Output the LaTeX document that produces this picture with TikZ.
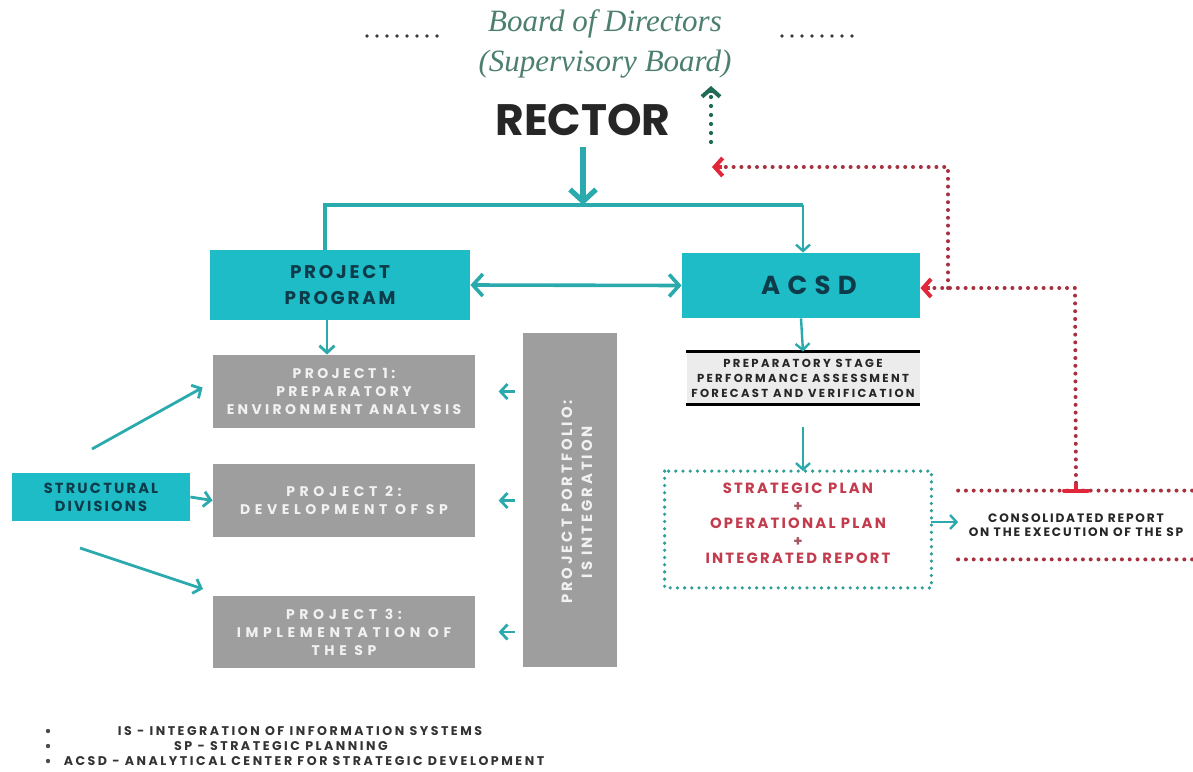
\documentclass[tikz,border=0pt]{standalone}
\usepackage{fontspec}
\setmainfont{Liberation Serif}
\newfontfamily\geo{Poppins}
\newfontfamily\geotrk[LetterSpace=15]{Poppins}
\newfontfamily\geowide[LetterSpace=20]{Poppins}
\newfontfamily\geoenv[LetterSpace=24]{Poppins}
\newfontfamily\geoproj[LetterSpace=33]{Poppins}
\newfontfamily\geoacsd[LetterSpace=28]{Poppins}
\usetikzlibrary{arrows.meta}
\definecolor{tealbox}{HTML}{1DBCC7}
\definecolor{tealline}{HTML}{2BAAAE}
\definecolor{navytxt}{HTML}{0E3B4A}
\definecolor{graybox}{HTML}{9E9E9E}
\definecolor{graytxt}{HTML}{F1F1F1}
\definecolor{boardgreen}{HTML}{4C7F70}
\definecolor{darkgreen}{HTML}{1F6B55}
\definecolor{plantxt}{HTML}{C23C4E}
\definecolor{reddot}{HTML}{A8303F}
\definecolor{redhead}{HTML}{E0283A}
\definecolor{prepfill}{HTML}{ECECEC}
\definecolor{dotgray}{HTML}{3A3A3A}
\definecolor{plandot}{HTML}{2E9E98}
\begin{document}
\begin{tikzpicture}[x=0.5pt,y=-0.5pt,
  tealnode/.style={fill=tealbox, text=navytxt, align=center, inner sep=0pt, font=\geotrk\bfseries},
  graynode/.style={fill=graybox, text=graytxt, align=center, inner sep=0pt, font=\geoproj\bfseries\fontsize{7}{9}\selectfont},
  flow/.style={draw=tealline, line width=1.4pt, -{Straight Barb[length=3.5pt,width=7.5pt,line width=1.4pt]}},
  flowthin/.style={draw=tealline, line width=1.2pt, -{Straight Barb[length=3.2pt,width=7pt,line width=1.2pt]}},
  reddots/.style={draw=reddot, line width=2pt, line cap=round, dash pattern=on 0pt off 3.9pt},
  redtip/.style={-{Straight Barb[length=4pt,width=9pt,line width=2pt,color=redhead]}},
  tealdots/.style={draw=plandot, line width=1.8pt, line cap=round, dash pattern=on 0pt off 3.6pt},
  legend/.style={font=\geowide\bfseries\fontsize{6.3}{8}\selectfont, text=black!80, inner sep=0pt},
]
\useasboundingbox (0,0) rectangle (1193,771);
\fill[white] (0,0) rectangle (1193,771);

% ---- top: board and rector
\node[text=boardgreen, font=\itshape\fontsize{15.5}{20}\selectfont, align=center] (board) at (605,44)
  {Board of Directors\\(Supervisory Board)};
\draw[dotgray, line width=1.8pt, line cap=round, dash pattern=on 0pt off 5pt] (367,36) -- (438,36);
\draw[dotgray, line width=1.8pt, line cap=round, dash pattern=on 0pt off 5pt] (782,36) -- (852,36);
\node[font=\geo\bfseries\fontsize{22}{24}\selectfont, text=black!85, inner sep=0pt] (rector) at (583,120) {RECTOR};

\coordinate (upstart) at (711,142);
\coordinate (uptip) at (711,86);
\draw[darkgreen, line width=2.1pt, line cap=round, dash pattern=on 0pt off 4.5pt] (upstart) -- ++(0,-46);
\draw[darkgreen, line width=2pt, -{Straight Barb[length=4pt,width=9pt,line width=2pt]}] (711,93) -- (uptip);

% ---- main boxes
\node[tealnode, minimum width=130pt, minimum height=35pt, font=\geotrk\bfseries\fontsize{9.2}{13}\selectfont] (pp) at (340,285) {PROJECT\\PROGRAM};
\node[tealnode, minimum width=119pt, minimum height=32.5pt] (acsd) at (801,285.5) {};
\node[text=navytxt, inner sep=0pt, font=\geoacsd\bfseries\fontsize{13}{15}\selectfont] at ([xshift=4pt]acsd.center) {ACSD};

\node[graynode, minimum width=131pt, minimum height=36.5pt, font=\geoenv\bfseries\fontsize{7}{9}\selectfont] (p1) at (344,391.5) {PROJECT 1:\\PREPARATORY\\ENVIRONMENT ANALYSIS};
\node[graynode, minimum width=131pt, minimum height=36.5pt] (p2) at (344,500.5) {PROJECT 2:\\DEVELOPMENT OF SP};
\node[graynode, minimum width=131pt, minimum height=36pt] (p3) at (344,632) {PROJECT 3:\\IMPLEMENTATION OF\\THE SP};
\node[fill=graybox, minimum width=47pt, minimum height=167pt, inner sep=0pt] (port) at (570,500) {};
\node[text=graytxt, align=center, rotate=90, font=\geowide\bfseries\fontsize{7.4}{10}\selectfont] at ([xshift=3.5pt,yshift=-1pt]port.center) {PROJECT PORTFOLIO:\\IS INTEGRATION};

\node[tealnode, minimum width=89pt, minimum height=24pt, font=\geotrk\bfseries\fontsize{7.3}{9}\selectfont] (sd) at (101,497) {STRUCTURAL\\DIVISIONS};

% ---- rector distribution
\coordinate (split) at (583,205);
\coordinate (splitL) at (325,205);
\coordinate (splitR) at (803,205);
\draw[tealline, line width=2.6pt, -{Straight Barb[length=6pt,width=13pt,line width=2.6pt]}] (rector.south |- 0,147) -- (split);
\draw[tealline, line width=2pt] (pp.north -| splitL) -- (splitL) -- (splitR);
\draw[flowthin] (splitR) -- (acsd.north -| splitR);
\draw[tealline, line width=1.8pt, {Straight Barb[length=5pt,width=11pt,line width=1.8pt]}-{Straight Barb[length=5pt,width=11pt,line width=1.8pt]}] (pp.east) -- (acsd.west);

% ---- program to projects
\draw[flow] (pp.south -| 327,0) -- (p1.north -| 327,0);
\draw[flow] (port.west |- p1) ++(-8,0) -- ([xshift=-12pt]port.west |- p1);
\draw[flow] (port.west |- p2) ++(-8,0) -- ([xshift=-12pt]port.west |- p2);
\draw[flow] (port.west |- p3) ++(-8,0) -- ([xshift=-12pt]port.west |- p3);

\coordinate (sdA) at (92,449);
\coordinate (sdC) at (80,548);
\draw[flow] (sdA) -- ([xshift=-5pt,yshift=2pt]p1.west);
\draw[flow] (sd.east) -- (p2.west);
\draw[flow] (sdC) -- (203,589);

% ---- ACSD chain
\node[fill=prepfill, minimum width=116.5pt, minimum height=26pt, inner sep=0pt, align=center,
      font=\geowide\bfseries\fontsize{5.8}{7.5}\selectfont, text=black!85] (prep) at (803,378)
  {PREPARATORY STAGE\\PERFORMANCE ASSESSMENT\\FORECAST AND VERIFICATION};
\draw[black, line width=1.3pt] (prep.north west) -- (prep.north east);
\draw[black, line width=1.3pt] (prep.south west) -- (prep.south east);
\draw[flowthin] (acsd.south) -- (prep.north);

\node[minimum width=133pt, minimum height=58pt, inner sep=0pt] (plans) at (798,529.5) {};
\node[inner sep=0pt, align=center, text=plantxt, font=\geotrk\bfseries\fontsize{7.4}{8.7}\selectfont] at ([yshift=3pt]plans.center)
  {STRATEGIC PLAN\\{\color{plantxt!60!gray}+}\\OPERATIONAL PLAN\\{\color{plantxt!60!gray}+}\\INTEGRATED REPORT};
\draw[tealdots] (plans.north west) rectangle (plans.south east);
\draw[flowthin] (prep.south |- 0,427) -- (plans.north -| prep.south);

\node[minimum width=117.5pt, minimum height=34pt, inner sep=0pt, align=center, text=black!85,
      font=\geotrk\bfseries\fontsize{6.1}{7.2}\selectfont] (cons) at (1076,525)
  {CONSOLIDATED REPORT\\ON THE EXECUTION OF THE SP};
\draw[reddots] (cons.north west) -- (cons.north east);
\draw[reddots] (cons.south west) -- (cons.south east);
\draw[flowthin] (plans.east |- 0,522) -- (cons.west |- 0,522);

% ---- report feedback loops
\coordinate (fbcorner) at (1075,288);
\coordinate (fbbranch) at (948,288);
\coordinate (fbtop) at (948,167);
\coordinate (fbtip) at (712,167);
\draw[reddots] (cons.north) -- (fbcorner) -- (acsd.east |- fbcorner);
\draw[reddots] (fbbranch) -- (fbtop) -- (fbtip);
\draw[redhead, line width=2pt, redtip] ([xshift=5pt]acsd.east |- fbcorner) -- (acsd.east |- fbcorner);
\draw[redhead, line width=2pt, redtip] ([xshift=5pt]fbtip) -- (fbtip);
\draw[redhead, line width=2pt, line cap=round] ([xshift=-6pt]cons.north) -- ([xshift=6pt]cons.north);
\draw[redhead, line width=2pt] (cons.north) -- ++(0,-7);

% ---- legend
\node[legend] (l1) at (300,731) {IS - INTEGRATION OF INFORMATION SYSTEMS};
\node[legend] (l2) at (281,746) {SP - STRATEGIC PLANNING};
\node[legend] (l3) at (304,761) {ACSD - ANALYTICAL CENTER FOR STRATEGIC DEVELOPMENT};
\foreach \yy in {731,746,761} \fill[black!70] (48,\yy) circle (1.1pt);
\end{tikzpicture}
\end{document}
